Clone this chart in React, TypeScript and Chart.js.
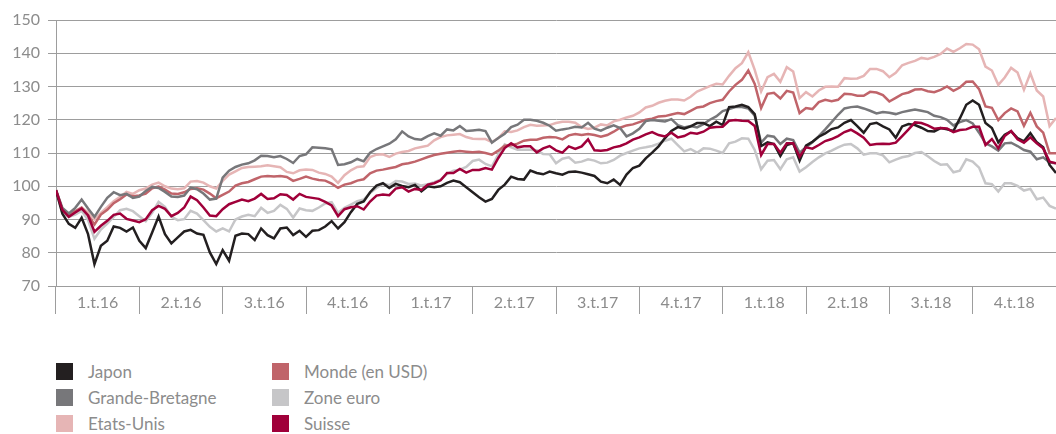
import React, { useEffect, useRef } from "react";
import { Chart, registerables } from "chart.js";

Chart.register(...registerables);

const quarterLabels = ["1.t.16", "2.t.16", "3.t.16", "4.t.16", "1.t.17", "2.t.17", "3.t.17", "4.t.17", "1.t.18", "2.t.18", "3.t.18", "4.t.18"];
const yTicks = [70, 80, 90, 100, 110, 120, 130, 140, 150];

const japon = [98.7, 91.7, 88.7, 87.5, 90.5, 85.6, 76.6, 82.1, 83.6, 87.9, 87.5, 86.4, 87.6, 83.6, 81.4, 86.1, 90.9, 85.6, 82.8, 84.6, 86.4, 86.9, 85.8, 85.4, 80.1, 76.6, 80.8, 77.6, 85.1, 85.8, 85.6, 83.8, 87.3, 85.3, 84.3, 87.3, 87.6, 85.3, 86.6, 84.8, 86.6, 86.8, 87.9, 89.5, 87.3, 89.2, 92.2, 94.7, 95.4, 98.2, 100.2, 100.9, 99.5, 100.7, 100.1, 99.7, 100.4, 98.5, 100, 99.7, 100, 101, 101.7, 101.2, 99.7, 98.2, 96.7, 95.4, 96.2, 98.9, 100.5, 102.9, 102.2, 102, 104.7, 104, 103.6, 104.4, 103.9, 103.5, 104.3, 104.4, 104.1, 103.6, 103.1, 101.4, 100.9, 102, 100.4, 103.5, 105.5, 106.2, 108.4, 110.1, 112, 114.5, 116.6, 117.8, 117.3, 118, 119, 119, 118.1, 119.4, 118.4, 123.8, 124, 124.5, 123.8, 121.7, 112.1, 113.2, 112.7, 109.1, 112.4, 113, 107.7, 112.2, 113.4, 114.9, 115.9, 117.2, 117.7, 119.1, 119.9, 118.1, 116.1, 118.7, 119.1, 118, 117.1, 114.6, 118, 118.7, 118.4, 117.6, 116.6, 116.5, 117.5, 117.1, 116.6, 120.4, 124.5, 125.8, 124.5, 119, 117.5, 113.2, 115.5, 116.5, 114.5, 113.5, 116, 113.2, 111.7, 106.4, 104];

const grandeBretagne = [98.8, 93.5, 91.8, 93.5, 96, 93.3, 90.8, 93.8, 96.5, 98.2, 97.3, 97.7, 96.5, 96.9, 98.6, 99.8, 99.5, 98.3, 96.9, 96.8, 97.2, 99.6, 99.1, 97.8, 96, 96.3, 102.6, 104.7, 105.8, 106.5, 106.9, 107.8, 109.2, 109.1, 108.7, 109.1, 108.2, 107, 109.1, 109.6, 111.7, 111.6, 111.4, 111.1, 106.4, 106.6, 107.2, 108.2, 107.5, 110.1, 111.2, 112, 112.8, 114.1, 116.5, 115, 114.2, 114, 115.1, 115.9, 115.2, 117.1, 116.8, 118.1, 116.6, 116.8, 117, 116.6, 113.1, 114.5, 115.8, 117.8, 118.5, 120, 120, 119.7, 119.1, 118.2, 116.7, 117.1, 117.4, 117.9, 117.7, 119.1, 117.3, 116.7, 117.6, 118.3, 117.5, 115, 115.9, 117.3, 119.6, 119.9, 119.7, 119.5, 120.2, 118.4, 117.7, 118.1, 117.7, 118.7, 120, 121, 122.6, 123.2, 123.8, 123.8, 123.4, 121.2, 113.1, 115.2, 114.9, 112.7, 114.3, 113.9, 110.1, 111.7, 113.2, 115.1, 117.1, 119.3, 121.5, 123.4, 123.8, 124, 123.4, 122.7, 121.9, 122.3, 122.1, 121.7, 122.3, 122.7, 123.1, 122.7, 122.3, 121.2, 120.8, 120, 118.3, 119.3, 119.9, 118.9, 116.1, 112.9, 112, 110.7, 112.9, 113.1, 112.1, 110.9, 110.4, 108.1, 108.7, 107.1, 106.9];

const etatsUnis = [98.8, 93, 91.2, 92.2, 93.5, 92.2, 90, 92, 93.7, 95.5, 96.8, 98.3, 97.7, 98.8, 99.3, 100.5, 101.1, 100, 99.3, 99.1, 99.4, 101.4, 101.6, 101.1, 100, 99.3, 101.6, 103.5, 104.5, 105.5, 105.8, 105.9, 106, 106.3, 106, 105.7, 104.3, 103.9, 104.8, 105, 104.9, 104.1, 103.7, 102.9, 101, 103.3, 104.8, 105.8, 106, 108.8, 109.5, 109.6, 108.8, 109.8, 110.3, 110.6, 111.4, 111.8, 112.2, 113.8, 114.8, 115.3, 115.5, 115.7, 114.8, 114.3, 114.2, 114.2, 113.3, 114.5, 116.5, 116.3, 116.8, 117.8, 118.5, 118.2, 118.3, 118.4, 119, 119.4, 119.4, 119.1, 117.8, 117.2, 117.6, 118.6, 118.3, 119.5, 120, 120.7, 121.2, 122.2, 123.7, 124.2, 125.1, 125.7, 126.1, 126.1, 125.8, 126.9, 128.5, 129.3, 130.1, 130.8, 130.6, 133.2, 135.5, 137, 140.3, 135, 128.5, 132.8, 133.8, 131.4, 135.8, 134.5, 126.5, 128.3, 127, 128.8, 129.9, 130, 129.9, 132.5, 132.3, 132.4, 133.2, 135.3, 135.3, 134.6, 132.8, 134.1, 136.4, 137.1, 137.7, 138.6, 138.3, 138.9, 139.8, 141.4, 140.4, 141.5, 142.8, 142.6, 141.2, 136, 134.8, 130.5, 132.7, 135.6, 134.2, 129, 134, 128.8, 127, 118.1, 120.5];

const monde = [98.8, 93, 91.4, 92.5, 93.6, 91.3, 88.5, 91.5, 92.9, 94.9, 96.1, 97.5, 97, 97.2, 97.8, 99.4, 99.9, 99, 97.8, 97.7, 98.2, 99.2, 99.4, 99, 97.8, 96.4, 97.4, 98.4, 100.2, 100.9, 101.3, 102.1, 102.9, 103.1, 102.9, 103.1, 102.8, 101.6, 102.2, 102.9, 102.3, 101.9, 101.7, 100.8, 99.5, 100.5, 100.9, 101.7, 102.1, 103.9, 104.7, 105, 105.4, 105.8, 106.6, 106.9, 107.4, 108.1, 108.8, 109.4, 109.8, 110.1, 110.4, 110.6, 110.4, 110.2, 110.4, 110, 109.5, 110.7, 112.2, 112.3, 112.8, 113.7, 114, 114, 114.6, 114.8, 114.7, 114.1, 115.3, 115.7, 115.4, 115.7, 115.4, 114.9, 115.4, 116.4, 117.6, 118.3, 118.6, 119.3, 120, 120.3, 121, 121.1, 121.6, 122, 121.7, 122.7, 123.7, 124, 125, 125.6, 126, 128.5, 130.5, 132, 134.8, 130.8, 123.5, 127.8, 128.1, 126.4, 128.7, 128.2, 122, 123.5, 123.2, 125.3, 126, 125.6, 126, 127.8, 127.7, 127.2, 127.2, 128.4, 128.2, 127.4, 125.5, 126.6, 127.7, 128.2, 129.1, 129.2, 128.6, 128.3, 129, 130, 128.7, 129.7, 131.4, 131.5, 129.2, 124, 123.6, 119.9, 122, 123.4, 122.5, 118.2, 122.1, 118, 116.1, 109.9, 109.9];

const zoneEuro = [98.8, 92, 90.8, 91.5, 92.6, 89.8, 84.2, 87, 88.8, 90.8, 92.8, 93.2, 92.5, 91, 89.5, 92, 95.3, 93.8, 90.8, 89.8, 90.1, 92.6, 91.8, 89.8, 87.8, 86.4, 87.3, 86.4, 90, 90.9, 91.4, 91, 93.5, 92, 92.6, 94.4, 93.2, 90.6, 93.3, 92.8, 92.6, 93.6, 94.8, 95.2, 92, 93.5, 94.5, 95.5, 96, 98, 99.5, 100.8, 100.3, 101.6, 101.4, 100.7, 100.8, 100.2, 100.6, 101.2, 102, 103.7, 104.7, 105, 105.8, 107.6, 108, 106.7, 106, 109.6, 112.6, 111.7, 111, 111, 111, 110.8, 109.7, 109.6, 106.9, 108.3, 108.7, 107.1, 107.4, 108.1, 107.7, 106.9, 107.1, 107.9, 109.2, 110, 110.7, 111.4, 111.7, 112.1, 112.8, 113.7, 114.3, 112.4, 110.5, 111.2, 110.1, 111.4, 111.3, 110.7, 110, 112.9, 113.4, 114.4, 114.3, 110.9, 105.1, 107.7, 107.9, 105.1, 108.1, 108.7, 104.4, 105.7, 107.3, 108.7, 109.9, 110.7, 111.7, 112.5, 112.7, 111.4, 109.5, 109.9, 109.9, 109.3, 107.2, 108, 108.7, 109.1, 110, 110.3, 109, 107.6, 106.5, 106.6, 104.2, 104.7, 108.1, 107.4, 105.6, 100.9, 100.6, 98.4, 100.9, 100.9, 100.1, 98.7, 99.2, 96.1, 96.6, 94.1, 93.3];

const suisse = [98.8, 92.9, 90.8, 92.1, 93.3, 91.2, 86.3, 88.1, 89.6, 91.4, 91.8, 90.2, 89.7, 89.2, 90.1, 92.8, 94.1, 93.2, 91, 92, 93.6, 96.9, 95.8, 93.6, 91.2, 91, 93.1, 94.6, 95.3, 96, 95.5, 96.3, 97.7, 96.2, 96.4, 97.6, 97.4, 96, 97.7, 96.8, 96.5, 96.2, 95.3, 94.2, 91, 93.1, 93.7, 94, 93, 95.4, 97.2, 97.5, 97.3, 99.3, 99.7, 98.4, 99.2, 98.9, 100.5, 100.9, 101.8, 104, 104, 105.2, 104.1, 104.9, 104.9, 105.5, 105, 108.5, 111.5, 112.9, 111.7, 112, 112, 110.2, 111.4, 112.1, 110.8, 110.1, 112, 111.2, 112, 114.1, 110.8, 110.7, 110.9, 111.7, 112.1, 112.9, 114, 114.7, 115.6, 116.3, 115.4, 115, 116.1, 114.7, 115.1, 116.1, 115.8, 116.4, 117.6, 117.8, 117.9, 119.7, 119.9, 119.7, 119.6, 118.1, 109.4, 112.7, 112.7, 110.1, 112.9, 112.9, 108.9, 111.7, 111.3, 112.4, 113.6, 114.2, 115.1, 116.3, 117, 115.9, 114.6, 112.4, 112.7, 112.8, 112.7, 113.1, 115.1, 117.1, 119.2, 119, 118.3, 117.3, 117.5, 117.4, 116.3, 116.9, 117.1, 117.9, 117.9, 112.4, 114.2, 111.4, 115.1, 116.6, 114.1, 113.1, 114.7, 112.9, 111.4, 107.4, 106.9];

const seriesNames = ["Japon", "Grande-Bretagne", "Etats-Unis", "Monde (en USD)", "Zone euro", "Suisse"];
const seriesColors = ["#231f20", "#77777a", "#e6b5b5", "#c0646a", "#c6c6c8", "#a0003a"];
const seriesValues = [japon, grandeBretagne, etatsUnis, monde, zoneEuro, suisse];
const drawOrder = [1, 2, 4, 3, 5, 0];

const FONT = "Lato, 'Open Sans', sans-serif";
const TEXT_COLOR = "#8c8c8c";
const GRID_COLOR = "#9d9d9d";

export default function App() {
  const canvasRef = useRef<HTMLCanvasElement | null>(null);

  useEffect(() => {
    const canvas = canvasRef.current;
    if (!canvas) return;
    const lastIndex = japon.length - 1;
    const chart = new Chart(canvas, {
      type: "line",
      data: {
        datasets: seriesValues.map((vals, k) => ({
          label: seriesNames[k],
          data: vals.map((v, i) => ({ x: i, y: v })),
          borderColor: seriesColors[k],
          backgroundColor: seriesColors[k],
          borderWidth: 2.5,
          pointRadius: 0,
          tension: 0,
          order: drawOrder[k],
          xAxisID: "x",
          yAxisID: "y",
        })),
      },
      options: {
        responsive: false,
        animation: false,
        maintainAspectRatio: false,
        layout: { padding: { top: 20, left: 0, right: 0, bottom: 0 } },
        plugins: { legend: { display: false }, tooltip: { enabled: false } },
        scales: {
          x: {
            type: "linear",
            display: false,
            min: 0,
            max: lastIndex,
          },
          xq: {
            type: "category",
            position: "bottom",
            labels: quarterLabels,
            offset: true,
            border: { display: false },
            grid: {
              offset: true,
              drawOnChartArea: false,
              drawTicks: true,
              tickLength: 28,
              color: GRID_COLOR,
              lineWidth: 1,
            },
            ticks: {
              color: TEXT_COLOR,
              font: { family: FONT, size: 16 },
              padding: -21,
              maxRotation: 0,
              autoSkip: false,
            },
            afterFit: (scale: any) => {
              scale.height = 44;
            },
          },
          y: {
            type: "linear",
            min: yTicks[0],
            max: yTicks[yTicks.length - 1],
            afterBuildTicks: (scale: any) => {
              scale.ticks = yTicks.map((v) => ({ value: v }));
            },
            border: { display: true, color: GRID_COLOR, width: 1 },
            grid: {
              color: GRID_COLOR,
              lineWidth: 1,
              tickLength: 8,
            },
            ticks: {
              color: TEXT_COLOR,
              font: { family: FONT, size: 16 },
              padding: 8,
            },
            afterFit: (scale: any) => {
              scale.width = 56;
            },
          },
        },
      },
    });
    return () => chart.destroy();
  }, []);

  const legendOrder = [0, 3, 1, 4, 2, 5];

  return (
    <div style={{ position: "absolute", left: 0, top: 0, width: 1056, height: 434, background: "#fff", fontFamily: FONT }}>
      <canvas ref={canvasRef} width={1056} height={330} style={{ display: "block", width: 1056, height: 330 }} />
      <div
        style={{
          position: "absolute",
          left: 56,
          top: 363,
          display: "grid",
          gridTemplateColumns: "216px 220px",
          gridAutoRows: "26px",
        }}
      >
        {legendOrder.map((k) => (
          <div key={k} style={{ display: "flex", alignItems: "flex-start", height: 26 }}>
            <span style={{ width: 17, height: 17, background: seriesColors[k], display: "inline-block", flex: "none" }} />
            <span style={{ marginLeft: 15, fontSize: 17, lineHeight: "17px", color: TEXT_COLOR, whiteSpace: "nowrap" }}>{seriesNames[k]}</span>
          </div>
        ))}
      </div>
    </div>
  );
}
